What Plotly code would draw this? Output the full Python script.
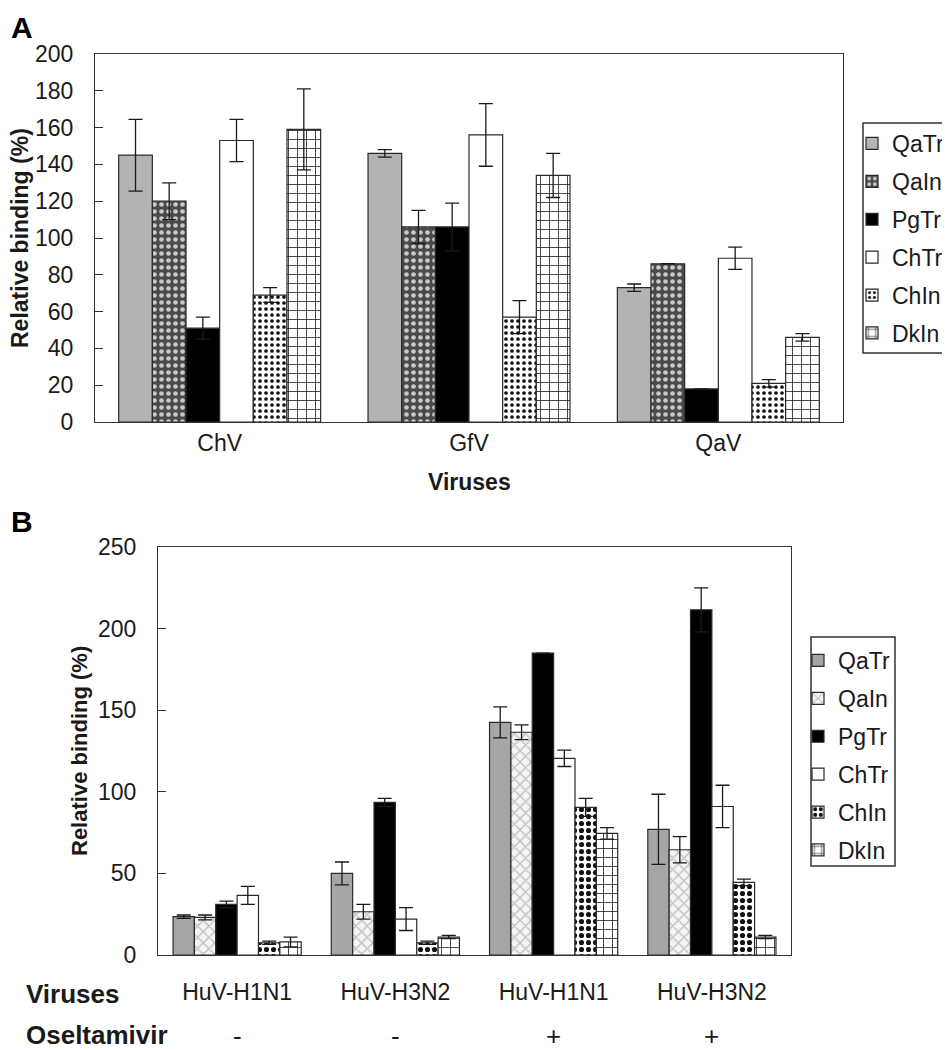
import plotly.graph_objects as go

# ---------------- data ----------------
series = ["QaTr", "QaIn", "PgTr", "ChTr", "ChIn", "DkIn"]

viruses_a = ["ChV", "GfV", "QaV"]
vals_a = {
    "QaTr": [145, 146, 73],
    "QaIn": [120, 106, 86],
    "PgTr": [51, 106, 18],
    "ChTr": [153, 156, 89],
    "ChIn": [69, 57, 21],
    "DkIn": [159, 134, 46],
}
err_a = {
    "QaTr": [19.5, 2, 2],
    "QaIn": [10, 9, None],
    "PgTr": [6, 13, None],
    "ChTr": [11.5, 17, 6],
    "ChIn": [4, 9, 2],
    "DkIn": [22, 12, 2],
}

viruses_b = ["HuV-H1N1", "HuV-H3N2", "HuV-H1N1", "HuV-H3N2"]
oseltamivir = ["-", "-", "+", "+"]
vals_b = {
    "QaTr": [23.5, 50, 142.5, 77],
    "QaIn": [23, 26.5, 136.5, 64.5],
    "PgTr": [31, 93.5, 185, 211.5],
    "ChTr": [36.5, 22, 120.5, 91],
    "ChIn": [7.5, 7.5, 90.5, 44.5],
    "DkIn": [8, 11, 74.5, 11],
}
err_b = {
    "QaTr": [1, 7, 9.5, 21.5],
    "QaIn": [1.5, 4.5, 4.5, 8],
    "PgTr": [2, 2.5, None, 13.5],
    "ChTr": [5.5, 7, 5, 13],
    "ChIn": [1, 1, 5.5, 2],
    "DkIn": [3, 1, 3.5, 1],
}

# ---------------- styles ----------------
PAGE_OFF = 8            # default page body margin
W, H = 950 - PAGE_OFF, 1050 - PAGE_OFF
FONT = "Liberation Sans, Arial, Helvetica, sans-serif"
TXT = "#1a1a1a"
EDGE = "#2b2b2b"

def px_x(p):
    return (p - PAGE_OFF) / W

def px_y(p):
    return 1 - (p - PAGE_OFF) / H

style_a = {
    "QaTr": dict(color="#b3b3b3"),
    "QaIn": dict(color="#4a4a4a", pattern=dict(shape=".", bgcolor="#4a4a4a", fgcolor="#c9c9c9", size=7, solidity=0.35, fillmode="replace")),
    "PgTr": dict(color="#000000"),
    "ChTr": dict(color="#ffffff"),
    "ChIn": dict(color="#ffffff", pattern=dict(shape=".", bgcolor="#ffffff", fgcolor="#111111", size=6, solidity=0.3, fillmode="replace")),
    "DkIn": dict(color="#ffffff", pattern=dict(shape="+", bgcolor="#ffffff", fgcolor="#2b2b2b", size=9, solidity=0.18, fillmode="replace")),
}
style_b = {
    "QaTr": dict(color="#a6a6a6"),
    "QaIn": dict(color="#f2f2f2", pattern=dict(shape="x", bgcolor="#f4f4f4", fgcolor="#bdbdbd", size=8, solidity=0.3, fillmode="replace")),
    "PgTr": dict(color="#000000"),
    "ChTr": dict(color="#ffffff"),
    "ChIn": dict(color="#ffffff", pattern=dict(shape=".", bgcolor="#ffffff", fgcolor="#111111", size=7, solidity=0.42, fillmode="replace")),
    "DkIn": dict(color="#ffffff", pattern=dict(shape="+", bgcolor="#ffffff", fgcolor="#2b2b2b", size=9, solidity=0.18, fillmode="replace")),
}

fig = go.Figure()

for i, s in enumerate(series):
    fig.add_trace(go.Bar(
        x=viruses_a, y=vals_a[s], name=s,
        marker=dict(line=dict(color=EDGE, width=1.2), **style_a[s]),
        error_y=dict(type="data", array=err_a[s], visible=True, color="#1a1a1a", thickness=1.3, width=7),
        xaxis="x", yaxis="y", legend="legend", legendgroup="a" + s,
    ))

xb = list(range(len(viruses_b)))
for i, s in enumerate(series):
    fig.add_trace(go.Bar(
        x=xb, y=vals_b[s], name=s,
        marker=dict(line=dict(color=EDGE, width=1.2), **style_b[s]),
        error_y=dict(type="data", array=err_b[s], visible=True, color="#1a1a1a", thickness=1.3, width=7),
        xaxis="x2", yaxis="y2", legend="legend2", legendgroup="b" + s,
    ))

axis_common = dict(showline=True, mirror=True, linecolor="#333333", linewidth=1.3,
                   showgrid=False, zeroline=False, automargin=False,
                   tickfont=dict(family=FONT, size=23, color=TXT))

fig.update_layout(
    width=W, height=H,
    margin=dict(l=0, r=0, t=0, b=0, autoexpand=False),
    paper_bgcolor="white", plot_bgcolor="white",
    font=dict(family=FONT, color=TXT),
    barmode="group", bargap=0.19, bargroupgap=0,
    xaxis=dict(domain=[px_x(95), px_x(843)], anchor="y", ticks="",
               ticklabelstandoff=0, **axis_common),
    yaxis=dict(domain=[px_y(422), px_y(54)], anchor="x", range=[0, 200], dtick=20,
               ticks="inside", ticklen=8, tickcolor="#333333", ticklabelstandoff=16,
               **axis_common),
    xaxis2=dict(domain=[px_x(158), px_x(791)], anchor="y2", ticks="",
                tickmode="array", tickvals=xb, ticktext=viruses_b,
                range=[-0.5, len(xb) - 0.5], ticklabelstandoff=16, **axis_common),
    yaxis2=dict(domain=[px_y(955), px_y(547)], anchor="x2", range=[0, 250], dtick=50,
                ticks="inside", ticklen=8, tickcolor="#333333", ticklabelstandoff=16,
                **axis_common),
    legend=dict(x=px_x(852), y=px_y(122), xanchor="left", yanchor="top",
                bgcolor="rgba(0,0,0,0)", borderwidth=0,
                font=dict(family=FONT, size=23, color=TXT), tracegroupgap=5,
                itemwidth=30),
    legend2=dict(x=px_x(798), y=px_y(639), xanchor="left", yanchor="top",
                 bgcolor="rgba(0,0,0,0)", borderwidth=0,
                 font=dict(family=FONT, size=23, color=TXT), tracegroupgap=5,
                 itemwidth=30),
)

# legend frames
fig.add_shape(type="rect", xref="paper", yref="paper",
              x0=px_x(863), x1=px_x(956), y0=px_y(353), y1=px_y(123),
              line=dict(color="#333333", width=1.5), fillcolor="rgba(0,0,0,0)", layer="above")
fig.add_shape(type="rect", xref="paper", yref="paper",
              x0=px_x(811), x1=px_x(895), y0=px_y(866), y1=px_y(637),
              line=dict(color="#333333", width=1.5), fillcolor="rgba(0,0,0,0)", layer="above")

ann = []
ann.append(dict(text="<b>A</b>", x=px_x(9), y=px_y(28), xref="paper", yref="paper",
                xanchor="left", yanchor="middle", showarrow=False,
                font=dict(family=FONT, size=30, color="#000")))
ann.append(dict(text="<b>B</b>", x=px_x(9), y=px_y(521), xref="paper", yref="paper",
                xanchor="left", yanchor="middle", showarrow=False,
                font=dict(family=FONT, size=30, color="#000")))
ann.append(dict(text="<b>Relative binding (%)</b>", x=px_x(20), y=px_y(238), xref="paper", yref="paper",
                xanchor="center", yanchor="middle", textangle=-90, showarrow=False,
                font=dict(family=FONT, size=23, color=TXT)))
ann.append(dict(text="<b>Relative binding (%)</b>", x=px_x(79), y=px_y(751), xref="paper", yref="paper",
                xanchor="center", yanchor="middle", textangle=-90, showarrow=False,
                font=dict(family=FONT, size=22, color=TXT)))
ann.append(dict(text="<b>Viruses</b>", x=px_x(469), y=px_y(482), xref="paper", yref="paper",
                xanchor="center", yanchor="middle", showarrow=False,
                font=dict(family=FONT, size=23, color=TXT)))
ann.append(dict(text="<b>Viruses</b>", x=px_x(24), y=px_y(994), xref="paper", yref="paper",
                xanchor="left", yanchor="middle", showarrow=False,
                font=dict(family=FONT, size=26, color=TXT)))
ann.append(dict(text="<b>Oseltamivir</b>", x=px_x(24), y=px_y(1035), xref="paper", yref="paper",
                xanchor="left", yanchor="middle", showarrow=False,
                font=dict(family=FONT, size=26, color=TXT)))
for i, sgn in enumerate(oseltamivir):
    ann.append(dict(text=sgn, x=xb[i], y=px_y(1036), xref="x2", yref="paper",
                    xanchor="center", yanchor="middle", showarrow=False,
                    font=dict(family=FONT, size=26, color=TXT)))
fig.update_layout(annotations=ann)

fig.write_html("out.html")
